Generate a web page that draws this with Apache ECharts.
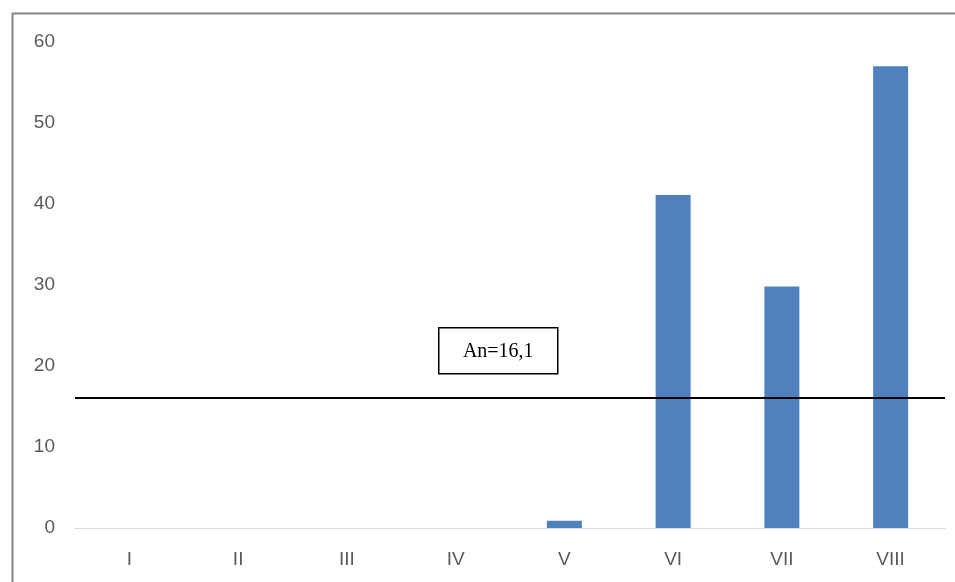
<!DOCTYPE html>
<html>
<head>
<meta charset="utf-8">
<script src="https://cdn.jsdelivr.net/npm/echarts@6/dist/echarts.min.js"></script>
<style>
  html, body { margin: 0; padding: 0; background: #fff; }
  #chart { width: 955px; height: 582px; }
</style>
</head>
<body>
<div id="chart"></div>
<script>
// Months (Roman numerals) and the measured values per month
const categories = ['I', 'II', 'III', 'IV', 'V', 'VI', 'VII', 'VIII'];
const values = [0, 0, 0, 0, 0.9, 41.1, 29.8, 57.0];

// Average level drawn as a horizontal reference line
const averageValue = 16.1;
const averageLabel = 'An=16,1';

// Value axis range
const yMin = 0;
const yMax = 60;
const yStep = 10;

const chart = echarts.init(document.getElementById('chart'), null, { renderer: 'canvas' });

const labelFont = {
  color: '#595959',
  fontFamily: 'Liberation Sans, Arial, sans-serif',
  fontSize: 19
};

chart.setOption({
  animation: false,
  backgroundColor: '#ffffff',
  grid: { left: 75, right: 10, top: 42, bottom: 54, containLabel: false },
  xAxis: {
    type: 'category',
    data: categories,
    axisLine: { show: true, lineStyle: { color: '#d9d9d9', width: 1 } },
    axisTick: { show: false },
    axisLabel: Object.assign({ margin: 22 }, labelFont),
    splitLine: { show: false }
  },
  yAxis: {
    type: 'value',
    min: yMin,
    max: yMax,
    interval: yStep,
    axisLine: { show: false },
    axisTick: { show: false },
    splitLine: { show: false },
    axisLabel: Object.assign({ margin: 20 }, labelFont)
  },
  series: [{
    type: 'bar',
    data: values,
    barWidth: 35,
    itemStyle: { color: '#4f81bd', borderWidth: 0 },
    markLine: {
      silent: true,
      symbol: ['none', 'none'],
      label: { show: false },
      lineStyle: { color: '#000000', width: 2, type: 'solid' },
      data: [{ yAxis: averageValue }]
    }
  }],
  graphic: [
    {
      // outer frame (top and left edges visible)
      type: 'rect',
      shape: { x: 12.5, y: 13.5, width: 1200, height: 1200 },
      style: { fill: 'none', stroke: '#858585', lineWidth: 2 },
      silent: true
    },
    {
      type: 'group',
      left: 438,
      top: 327,
      children: [
        {
          type: 'rect',
          shape: { x: 0, y: 0, width: 119, height: 46 },
          style: { fill: '#ffffff', stroke: '#000000', lineWidth: 1.5 }
        },
        {
          type: 'text',
          x: 59.5,
          y: 24,
          style: {
            text: averageLabel,
            fill: '#000000',
            font: '20px "Liberation Serif", "DejaVu Serif", serif',
            align: 'center',
            verticalAlign: 'middle'
          }
        }
      ]
    }
  ]
});
</script>
</body>
</html>
